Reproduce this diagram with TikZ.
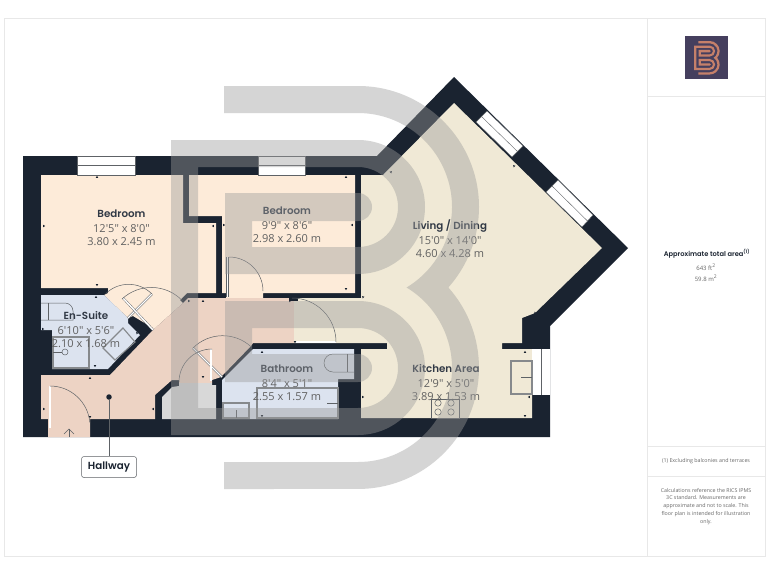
\documentclass[tikz,border=0pt]{standalone}
\usepackage{fontspec}
\usepackage{tikz}
\newfontfamily\dimfont{Open Sans}
\newfontfamily\titlefont{Poppins SemiBold}
\definecolor{wallc}{HTML}{1A2330}
\definecolor{bedc}{HTML}{FDEBD9}
\definecolor{bluec}{HTML}{DCE3EF}
\definecolor{hallc}{HTML}{EDD3C4}
\definecolor{livec}{HTML}{F0E9D6}
\definecolor{linec}{HTML}{5E6266}
\definecolor{framec}{HTML}{E8E8E8}
\definecolor{markc}{HTML}{9B9B9B}
\definecolor{cupc}{HTML}{D8D8D8}
\definecolor{logoc}{HTML}{453F5E}
\definecolor{logob}{HTML}{C5806A}
\tikzset{
  fixture/.style={draw=linec, line width=0.5pt},
  fixturethick/.style={draw=linec!75, line width=1.1pt},
  winline/.style={draw=linec, line width=0.4pt, fill=white},
  roomtitle/.style={font=\titlefont\fontsize{10.3}{12}\selectfont, text=wallc!90, inner sep=0pt},
  roomdim/.style={font=\dimfont\fontsize{11}{12}\selectfont, text=black!62, inner sep=0pt},
  hallbox/.style={draw=linec, fill=white, rounded corners=2.5pt, minimum width=55pt, minimum height=21pt, inner sep=0pt, line width=0.5pt, font=\titlefont\fontsize{10.3}{12}\selectfont, text=wallc},
  hallpin/.style={circle, fill=wallc, minimum size=5.5pt, inner sep=0pt},
  sidetext/.style={font=\dimfont\fontsize{5.3}{7.7}\selectfont, text=black!60, inner sep=0pt, align=center}
}
\newcommand{\roomtext}[6]{
  \node[roomtitle] (#1title) at (#2,#3) {#4};
  \node[roomdim] (#1feet) at (#2,#3+15) {#5};
  \node[roomdim] (#1metres) at (#2,#3+28) {#6};
}
\newcommand{\dimtick}[3]{\fill[wallc, shift={(#1,#2)}, rotate=#3] (-1.2,0.8) -- (1.2,0.8) -- (0,-1.2) -- cycle;}
\newcommand{\doorleaf}[4]{\draw[linec, line width=0.4pt, double=white, double distance=1.4pt] (#1,#2) -- (#3,#4);}
\newcommand{\bmark}[1]{
  \fill[#1] (224,86) -- (358,86) arc (-90:41.7:121) arc (-41.7:90:121) -- (224,489) -- (224,462) -- (358,462)
    arc (90:-58.9:94) arc (58.9:-90:94) -- (224,113) -- cycle;
  \fill[#1] (171,140) -- (358,140) arc (-90:90:67) -- (225,274) -- (225,193) -- (358,193) arc (-90:90:14)
    -- (252,221) -- (252,247) -- (358,247) arc (90:-90:40) -- (198,167) -- (198,408) -- (358,408)
    arc (90:-90:40) -- (252,328) -- (252,354) -- (358,354) arc (-90:90:14) -- (225,382) -- (225,301)
    -- (358,301) arc (-90:90:67) -- (171,435) -- cycle;
}
\begin{document}
\begin{tikzpicture}[x=1pt, y=-1pt]
  \useasboundingbox[fill=white] (0,0) rectangle (768,576);
  % frame
  \draw[framec, line width=0.8pt] (4,18) rectangle (765,556);
  \draw[framec, line width=0.8pt] (647,18) -- (647,556);
  \draw[framec, line width=0.8pt] (647,96) -- (765,96);
  \draw[framec, line width=0.8pt] (647,446) -- (765,446);
  \draw[framec, line width=0.8pt] (647,476) -- (765,476);
  % walls
  \fill[wallc] (23,156) -- (377,156) -- (454,77) -- (628,248) -- (550,326) -- (550,437) -- (23,437) -- cycle;
  % floors
  \fill[bedc] (41,175) -- (183,175) -- (183,223) -- (216,223) -- (216,293) -- (187,293) -- (180,300) -- (183,303)
    -- (153,330) -- (153,328) -- (133,316) -- (128,318) -- (104,295) -- (108,293) -- (108,288) -- (41,288) -- cycle;
  \fill[bedc] (189,175) -- (355,175) -- (355,293) -- (263,293) -- (263,298) -- (226,298) -- (226,293) -- (222,293)
    -- (222,216) -- (189,216) -- cycle;
  \fill[bluec] (41,295) -- (104,295) -- (128,318) -- (128,323) -- (140,335) -- (108,369) -- (52,369) -- (52,330) -- (41,330) -- cycle;
  \fill[hallc] (41,375) -- (110,375) -- (153,330) -- (183,303) -- (188,298) -- (294,298) -- (294,343) -- (253,343)
    -- (251,346) -- (221,377) -- (212,380) -- (212,383) -- (179,383) -- (179,380) -- (172,380) -- (155,395)
    -- (155,419) -- (90,419) -- (90,437) -- (48,437) -- (48,419) -- (41,419) -- cycle;
  \fill[cupc] (162,397) -- (172,387) -- (179,386) -- (179,383) -- (212,383) -- (212,385) -- (216,385) -- (216,419) -- (162,419) -- cycle;
  \fill[bluec] (253,349) -- (354,349) -- (354,379) -- (338,379) -- (338,419) -- (222,419) -- (222,380) -- cycle;
  \fill[livec] (361,175) -- (383,175) -- (454,103) -- (602,248) -- (535,313) -- (522,318) -- (522,343) -- (502,343)
    -- (502,349) -- (532,349) -- (532,418) -- (361,418) -- (361,349) -- (387,349) -- (387,343) -- (294,343)
    -- (294,298) -- (361,298) -- cycle;
  \fill[wallc] (289,298) rectangle (298,301);
  % windows
  \draw[winline] (77,156) rectangle (135,175);
  \draw[linec, line width=0.4pt] (77,165) -- (135,165);
  \draw[winline] (258,156) rectangle (305,175);
  \draw[linec, line width=0.4pt] (258,165) -- (305,165);
  \draw[winline] (487,111) -- (523,146) -- (512,157) -- (476,122) -- cycle;
  \draw[linec, line width=0.4pt] (481.5,116.5) -- (517.5,151.5);
  \draw[winline] (558,180) -- (593,215) -- (582,227) -- (546,192) -- cycle;
  \draw[linec, line width=0.4pt] (552,186) -- (587.5,221);
  \fill[white] (532,349) rectangle (550,395);
  \draw[linec, line width=0.4pt] (541,349) -- (541,395);
  % doors
  \doorleaf{50}{386}{50}{428}
  \draw[fixture] (50,386) arc (-90:-5:40);
  \draw[fixture] (69,437) -- (69,429);
  \draw[fixture] (64,434) -- (69,429) -- (74,434);
  \doorleaf{128}{318}{152}{294}
  \draw[fixture] (152,294) arc (-45:-134:33);
  \doorleaf{153}{330}{123}{298}
  \draw[fixture] (122,299) arc (-133:-44:43);
  \doorleaf{227.5}{257}{227.5}{297}
  \draw[fixture] (229,257) arc (-90:0:34);
  \doorleaf{295}{342}{336}{342}
  \draw[fixture] (292,298) arc (-90:0:44);
  \doorleaf{222}{377}{193}{348}
  \draw[fixture] (193,348) arc (-135:-47:42);
  \doorleaf{211}{349}{211}{381}
  \draw[fixture] (212,349) arc (-90:-180:33);
  % fixtures en-suite
  \draw[fixture] (41,303) -- (65,303) arc (-90:0:8) -- (73,320) -- (41,320);
  \draw[fixture] (48,303) -- (48,320);
  \draw[fixturethick] (53,337) rectangle (89,368);
  \draw[fixture] (65,352) circle (3);
  \draw[fixture] (53,352) -- (62,352);
  \draw[fixturethick] (103,348) -- (123,328) -- (135,342) -- (115,360) -- cycle;
  % fixtures bathroom
  \draw[fixture] (354,354) -- (333,354) arc (-90:-270:9) -- (354,372);
  \draw[fixture] (347,354) -- (347,372);
  \draw[fixturethick] (223,403) rectangle (249,418);
  \draw[fixture] (236,410) -- (236,418);
  \draw[fixturethick] (257,388) rectangle (338,418);
  \draw[fixture] (327,403) -- (338,403);
  % fixtures kitchen
  \draw[fixturethick] (511,361) rectangle (532,394);
  \draw[fixture] (521,377) -- (532,377);
  \draw[fixture] (431,399) rectangle (459,418);
  \draw[fixture] (438,403) circle (3.2);
  \draw[fixture] (451,403) circle (3.2);
  \draw[fixture] (438,412) circle (3.2);
  \draw[fixture] (451,412) circle (3.2);
  % ticks
  \dimtick{97}{177}{0}
  \dimtick{44}{226}{-90}
  \dimtick{97}{285}{180}
  \dimtick{96}{297}{0}
  \dimtick{213}{226}{90}
  \dimtick{224}{225}{-90}
  \dimtick{346}{177}{0}
  \dimtick{352}{225}{90}
  \dimtick{346}{289}{180}
  \dimtick{43}{329}{-90}
  \dimtick{95}{366}{180}
  \dimtick{137}{333}{45}
  \dimtick{90}{378}{0}
  \dimtick{44}{409}{-90}
  \dimtick{153}{409}{90}
  \dimtick{90}{417}{180}
  \dimtick{203}{377}{180}
  \dimtick{203}{301}{0}
  \dimtick{189}{301}{-90}
  \dimtick{262}{352}{0}
  \dimtick{262}{416}{180}
  \dimtick{363}{397}{-90}
  \dimtick{363}{297}{45}
  \dimtick{290}{301}{-90}
  \dimtick{295}{342}{180}
  \dimtick{391}{172}{-45}
  \dimtick{514}{166}{45}
  \dimtick{535}{313}{135}
  \dimtick{525}{352}{0}
  \dimtick{529}{397}{90}
  \dimtick{525}{416}{180}
  % room texts
  \roomtext{bedroomA}{121.5}{214}{Bedroom}{12'5" x 8'0"}{3.80 x 2.45 m}
  \roomtext{bedroomB}{287}{211}{Bedroom}{9'9" x 8'6"}{2.98 x 2.60 m}
  \roomtext{ensuite}{86}{316}{En-Suite}{6'10" x 5'6"}{2.10 x 1.68 m}
  \roomtext{bathroom}{287}{369}{Bathroom}{8'4" x 5'1"}{2.55 x 1.57 m}
  \roomtext{living}{450}{226}{Living / Dining}{15'0" x 14'0"}{4.60 x 4.28 m}
  \roomtext{kitchen}{446}{369}{Kitchen Area}{12'9" x 5'0"}{3.89 x 1.53 m}
  % watermark
  \bmark{markc, fill opacity=0.42}
  % hallway label
  \node[hallpin] (hallpin) at (109,397) {};
  \node[hallbox] (hallway) at (109,467) {Hallway};
  \draw[linec, line width=0.5pt] (hallpin) -- (hallway);
  % logo
  \fill[logoc] (685,36) rectangle (728,79);
  \begin{scope}[shift={(679.76,33.84)}, scale=0.0833]
    \bmark{logob}
  \end{scope}
  % side panel
  \node[font=\titlefont\fontsize{6.7}{8}\selectfont, text=wallc, inner sep=0pt] (areatitle) at (707,254) {Approximate total area\textsuperscript{(1)}};
  \node[sidetext, font=\dimfont\fontsize{6}{8}\selectfont] (areafeet) at (706,267) {643 ft\textsuperscript{2}};
  \node[sidetext, font=\dimfont\fontsize{6}{8}\selectfont] (areametres) at (706,278) {59.8 m\textsuperscript{2}};
  \node[sidetext] (footnote) at (706,461) {(1) Excluding balconies and terraces};
  \node[sidetext, anchor=north] (disclaimer) at (706,488) {Calculations reference the RICS IPMS\\3C standard. Measurements are\\approximate and not to scale. This\\floor plan is intended for illustration\\only.};
\end{tikzpicture}
\end{document}
